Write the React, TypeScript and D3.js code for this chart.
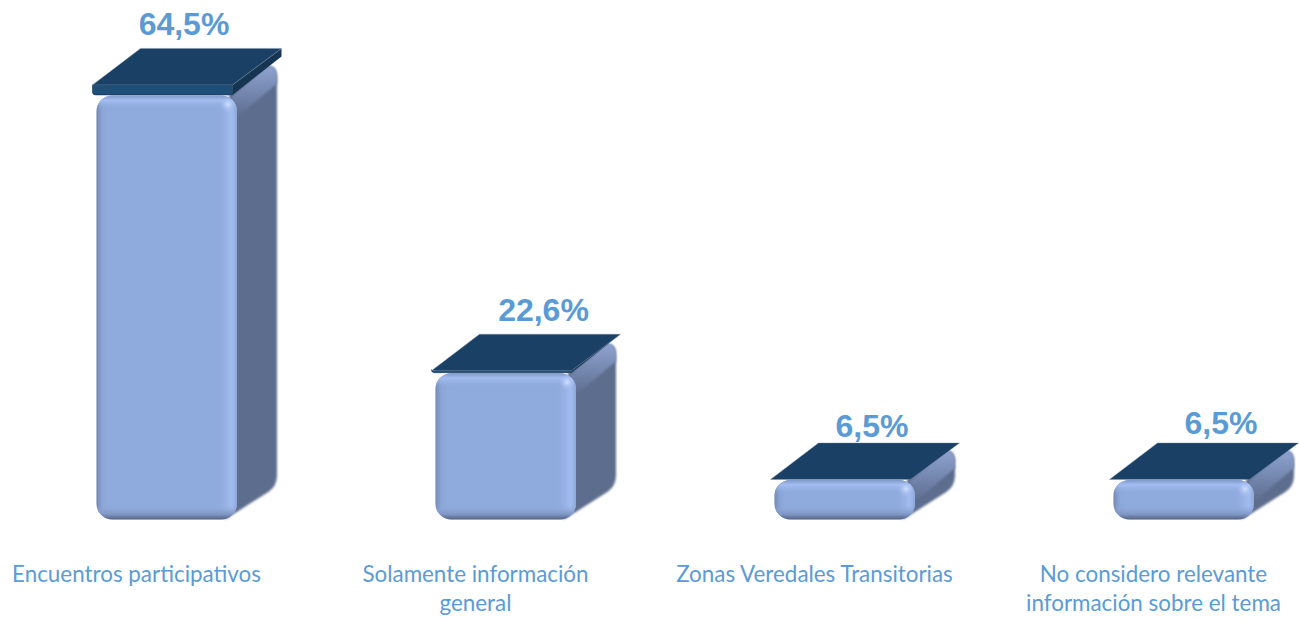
import React from "react";
import * as d3 from "d3";

const categories = ["Encuentros participativos", "Solamente información general", "Zonas Veredales Transitorias", "No considero relevante información sobre el tema"];
const categoryLines = [["Encuentros participativos"], ["Solamente información", "general"], ["Zonas Veredales Transitorias"], ["No considero relevante", "información sobre el tema"]];
const values = [64.5, 22.6, 6.5, 6.5];
const valueLabels = ["64,5%", "22,6%", "6,5%", "6,5%"];

// layout only
const W = 1299, H = 620;
const frontW = 140.5, depthX = 40, depthY = 30, radius = 16;
const capRise = [10.5, 2.5, 0.5, 0.5];
const capThick = [10, 2, 0, 0];
const labelDx = [47.5, 68, 57.5, 67.5];
const labelBaseGap = [60, 52, 43, 46];

const x = d3.scaleBand<string>().domain(categories).range([-33, 1323]);
const y = d3.scaleLinear().domain([0, 64.5]).range([523, 95.4]);
const bottom = 519.5;

function sidePath(l: number, t: number) {
  const p = d3.path();
  const r = l + frontW - 8;
  const bx = l + frontW + depthX, by = t - depthY;
  p.moveTo(r, t);
  p.lineTo(bx - 10, by + 1);
  p.quadraticCurveTo(bx, by - 1, bx, by + 13);
  p.lineTo(bx, bottom - depthY - 14);
  p.quadraticCurveTo(bx, bottom - depthY - 4, bx - 8, bottom - depthY + 2);
  p.lineTo(r - 4, bottom);
  p.closePath();
  return p.toString();
}

function sideLip(l: number, t: number) {
  const p = d3.path();
  const r = l + frontW;
  const bx = l + frontW + depthX, by = t - depthY;
  p.moveTo(r - 6, t + 2);
  p.lineTo(bx - 10, by + 1);
  p.quadraticCurveTo(bx, by - 1, bx, by + 13);
  p.lineTo(bx, by + 18);
  p.lineTo(r, t + 22);
  p.closePath();
  return p.toString();
}

function capPath(l: number, frontY: number) {
  const p = d3.path();
  const a = l - 4;
  p.moveTo(a, frontY);
  p.lineTo(a + 48, frontY - 36.5);
  p.lineTo(a + 189, frontY - 36.5);
  p.lineTo(a + 140, frontY);
  p.closePath();
  return p.toString();
}

function capBand(l: number, frontY: number, th: number) {
  const p = d3.path();
  const a = l - 4;
  p.moveTo(a, frontY);
  p.lineTo(a + 140, frontY);
  p.lineTo(a + 140, frontY + th);
  p.lineTo(a + 3, frontY + th);
  p.quadraticCurveTo(a, frontY + th, a, frontY + th - 3);
  p.closePath();
  return p.toString();
}

function capSide(l: number, frontY: number, th: number) {
  const p = d3.path();
  const a = l - 4;
  p.moveTo(a + 140, frontY);
  p.lineTo(a + 189, frontY - 36.5);
  p.lineTo(a + 189, frontY - 36.5 + th - 2);
  p.lineTo(a + 140, frontY + th);
  p.closePath();
  return p.toString();
}

export default function App() {
  return (
    <svg width={W} height={H} viewBox={`0 0 ${W} ${H}`} style={{ position: "absolute", left: 0, top: 0, background: "#fff" }}>
      <defs>
        <linearGradient id="lipG" x1="0" x2="0" y1="0" y2="1">
          <stop offset="0" stopColor="#8ea3d0" />
          <stop offset="1" stopColor="#5d6d8e" />
        </linearGradient>
        <linearGradient id="topEdge" x1="0" x2="0" y1="0" y2="1">
          <stop offset="0" stopColor="#7f98c8" />
          <stop offset="0.35" stopColor="#a4bef2" />
          <stop offset="1" stopColor="#8faadc" stopOpacity="0" />
        </linearGradient>
        <linearGradient id="bottomEdge" x1="0" x2="0" y1="0" y2="1">
          <stop offset="0" stopColor="#8faadc" stopOpacity="0" />
          <stop offset="0.6" stopColor="#7d95c2" />
          <stop offset="1" stopColor="#4d5a76" />
        </linearGradient>
        <linearGradient id="rightEdge" x1="0" x2="1" y1="0" y2="0">
          <stop offset="0" stopColor="#9fb9ec" stopOpacity="0" />
          <stop offset="0.6" stopColor="#a4beF2" />
          <stop offset="1" stopColor="#7f98c8" />
        </linearGradient>
        <linearGradient id="leftEdge" x1="0" x2="1" y1="0" y2="0">
          <stop offset="0" stopColor="#66789f" />
          <stop offset="0.5" stopColor="#8aa4d5" />
          <stop offset="1" stopColor="#8faadc" stopOpacity="0" />
        </linearGradient>
        <radialGradient id="glint">
          <stop offset="0" stopColor="#d2e2ff" />
          <stop offset="1" stopColor="#a3bdf0" stopOpacity="0" />
        </radialGradient>
        <filter id="soft" x="-10%" y="-10%" width="120%" height="120%">
          <feGaussianBlur stdDeviation="0.8" />
        </filter>
        <filter id="blur1" x="-20%" y="-20%" width="140%" height="140%">
          <feGaussianBlur stdDeviation="1.5" />
        </filter>
        {values.map((v, i) => {
          const l = x(categories[i])! + x.bandwidth() / 2 - depthX;
          const t = y(v);
          return (
            <clipPath id={`front${i}`} key={i}>
              <rect x={l} y={t} width={frontW} height={bottom - t} rx={radius} ry={radius} />
            </clipPath>
          );
        })}
      </defs>
      {values.map((v, i) => {
        const c = x(categories[i])! + x.bandwidth() / 2;
        const l = c - depthX;
        const t = y(v);
        const h = bottom - t;
        const frontY = t - capRise[i];
        return (
          <g key={categories[i]}>
            <path d={sidePath(l, t)} fill="#5d6d8e" filter="url(#soft)" />
            <path d={sideLip(l, t)} fill="url(#lipG)" filter="url(#soft)" />
            <g clipPath={`url(#front${i})`}>
              <rect x={l} y={t} width={frontW} height={h} fill="#8faadc" />
              <rect x={l - 3} y={t - 3} width={16} height={h + 6} fill="url(#leftEdge)" filter="url(#blur1)" />
              <rect x={l + frontW - 17} y={t - 3} width={20} height={h + 6} fill="url(#rightEdge)" filter="url(#blur1)" />
              <rect x={l - 3} y={t} width={frontW + 6} height={14} fill="url(#topEdge)" />
              <rect x={l - 4} y={bottom - 14} width={frontW + 8} height={15} fill="url(#bottomEdge)" />
              <circle cx={l + frontW - 9} cy={t + 9} r={8} fill="url(#glint)" />
            </g>
            {capThick[i] > 0 && <path d={capSide(l, frontY, capThick[i])} fill="#153553" />}
            {capThick[i] > 0 && <path d={capBand(l, frontY, capThick[i])} fill="#1f4e79" stroke="#17324f" strokeWidth={0.6} />}
            <path d={capPath(l, frontY)} fill="#1a4066" stroke="#7f93a8" strokeWidth={0.4} />
            <text x={c + labelDx[i]} y={t - labelBaseGap[i]} textAnchor="middle" fontFamily="'Liberation Sans', Arial, sans-serif" fontWeight={700} fontSize={32} fill="#5b9bd5">
              {valueLabels[i]}
            </text>
            {categoryLines[i].map((line, j) => (
              <text key={line} x={c} y={582 + j * 29} textAnchor="middle" fontFamily="Lato, sans-serif" fontSize={22.4} fill="#5b9bd5">
                {line}
              </text>
            ))}
          </g>
        );
      })}
    </svg>
  );
}
